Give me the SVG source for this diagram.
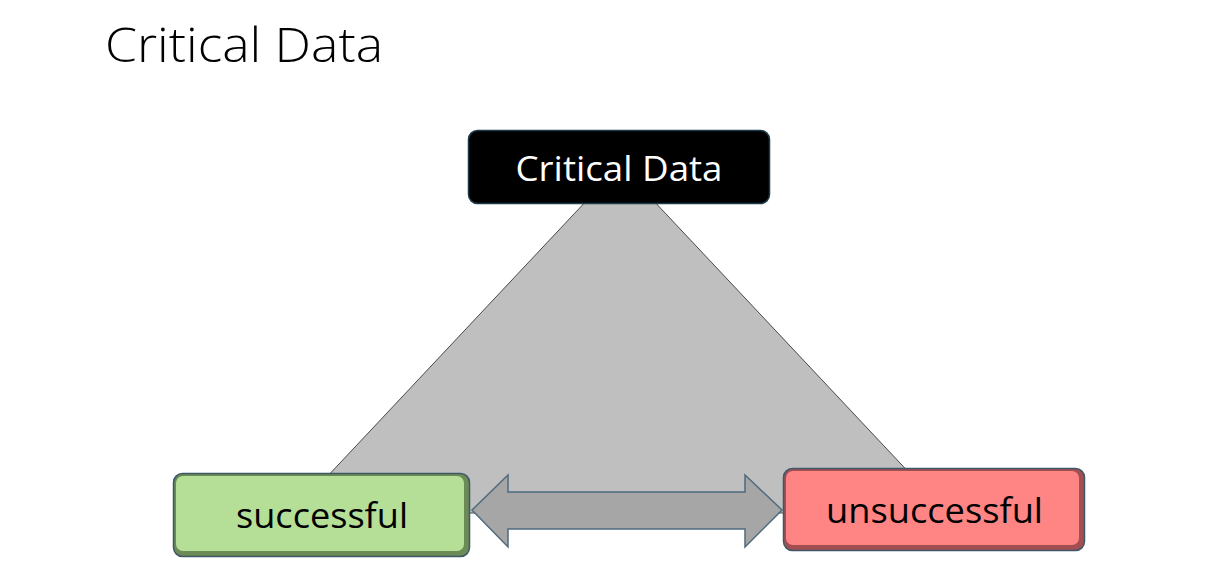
<svg xmlns="http://www.w3.org/2000/svg" width="1214" height="587" viewBox="0 0 1214 587">
<style>
.lbl{font-family:"Open Sans","Liberation Sans",Arial,sans-serif;font-size:35px;text-anchor:middle}
.edge{stroke:#3e5868;stroke-width:1.5}
</style>
<rect width="1214" height="587" fill="#ffffff"/>
<text x="105" y="62" font-family="Open Sans, Liberation Sans, Arial, sans-serif" font-weight="300" font-size="48" fill="#000" textLength="278" lengthAdjust="spacingAndGlyphs">Critical Data</text>
<g id="connectors">
<polygon points="620,165 293,513 947,513" fill="#bfbfbf" stroke="#4a4a4a" stroke-width="1"/>
<polygon points="472,510 508,475 508,492 745,492 745,475 782,510 745,547 745,529 508,529 508,547" fill="#a6a6a6" stroke="#4f6b7f" stroke-width="1.5"/>
</g>
<g id="node-critical">
<rect x="468.5" y="130.5" width="301" height="73" rx="9" fill="#000" stroke="#1d3a4a" stroke-width="1.5"/>
<text class="lbl" x="619" y="181" fill="#fff" textLength="207" lengthAdjust="spacingAndGlyphs">Critical Data</text>
</g>
<g id="node-successful">
<rect x="173.5" y="473.5" width="296" height="83" rx="9" fill="#6b8a55" class="edge"/>
<rect x="176" y="476" width="288" height="75" rx="7" fill="#b5df97"/>
<text class="lbl" x="322" y="528" fill="#000" textLength="172" lengthAdjust="spacingAndGlyphs">successful</text>
</g>
<g id="node-unsuccessful">
<rect x="783.5" y="468.5" width="301" height="82" rx="9" fill="#a34f52" class="edge"/>
<rect x="786" y="471" width="293" height="74" rx="7" fill="#ff8585"/>
<text class="lbl" x="934.5" y="523" fill="#000" textLength="217" lengthAdjust="spacingAndGlyphs">unsuccessful</text>
</g>
</svg>
